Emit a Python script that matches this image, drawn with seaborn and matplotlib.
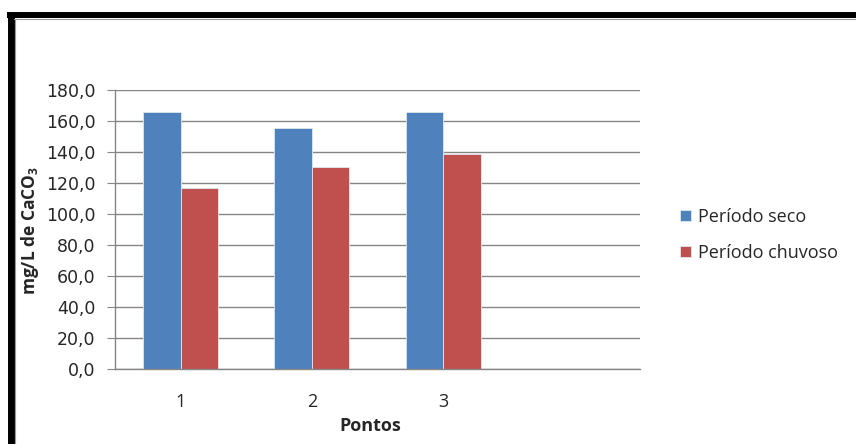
import pandas as pd
import seaborn as sns
import matplotlib.pyplot as plt
from matplotlib.lines import Line2D
from matplotlib.ticker import FuncFormatter, MultipleLocator

pontos = ['1', '2', '3']
periodos = ['Período seco', 'Período chuvoso']
seco = [165.8, 155.3, 165.8]
chuvoso = [116.8, 130.3, 138.9]
cores = ['#4F81BD', '#C0504D']

df = pd.DataFrame({
    'Pontos': pontos * 2,
    'Valor': seco + chuvoso,
    'Periodo': [periodos[0]] * 3 + [periodos[1]] * 3,
})

sns.set_style('white')
plt.rcParams['font.family'] = ['Open Sans', 'DejaVu Sans']
plt.rcParams['mathtext.default'] = 'regular'

fig = plt.figure(figsize=(8.56, 4.44), dpi=100)
ax = fig.add_axes([115 / 856, 1 - 369 / 444, 525 / 856, 279 / 444])

sns.barplot(data=df, x='Pontos', y='Valor', hue='Periodo', palette=cores,
            saturation=1, width=0.57, ax=ax, edgecolor='#dfe7f1', linewidth=0.6)

ax.set_xlim(-0.5, 3.5)
ax.set_ylim(0, 180)
ax.yaxis.set_major_locator(MultipleLocator(20))
ax.yaxis.set_major_formatter(FuncFormatter(lambda v, p: f'{v:.1f}'.replace('.', ',')))
ax.grid(axis='y', color='#868686', linewidth=1)
ax.set_axisbelow(True)

for s in ['top', 'right']:
    ax.spines[s].set_visible(False)
for s in ['left', 'bottom']:
    ax.spines[s].set_color('#868686')
    ax.spines[s].set_linewidth(1)

ax.tick_params(axis='y', length=6, color='#868686', labelsize=12.5, pad=8, left=True,
               labelfontfamily='DejaVu Sans')
ax.tick_params(axis='x', length=0, labelsize=13, pad=17)

ax.set_xlabel('Pontos', fontsize=13, fontweight='bold')
ax.set_ylabel('mg/L de CaCO$_3$', fontsize=12.5, fontweight='bold')
ax.xaxis.set_label_coords(0.486, -0.172)
ax.yaxis.set_label_coords(-0.141, 0.495)

ax.legend(loc='center left', bbox_to_anchor=(1.045, 0.48), frameon=False,
          fontsize=13, handlelength=0.6, handleheight=0.6, handletextpad=0.4,
          labelspacing=1.0)

# moldura preta (topo e esquerda)
fig.add_artist(Line2D([7 / 856, 1], [1 - 15.5 / 444] * 2, color='black', linewidth=4.3,
                      transform=fig.transFigure, solid_capstyle='butt'))
fig.add_artist(Line2D([10.5 / 856] * 2, [0, 1 - 13 / 444], color='black', linewidth=5,
                      transform=fig.transFigure, solid_capstyle='butt'))
fig.add_artist(Line2D([14 / 856, 1], [1 - 19.5 / 444] * 2, color='#9a9a9a', linewidth=0.8,
                      transform=fig.transFigure))
fig.add_artist(Line2D([15 / 856] * 2, [0, 1 - 19.5 / 444], color='#9a9a9a', linewidth=0.8,
                      transform=fig.transFigure))

plt.savefig('out.png', dpi=100)
